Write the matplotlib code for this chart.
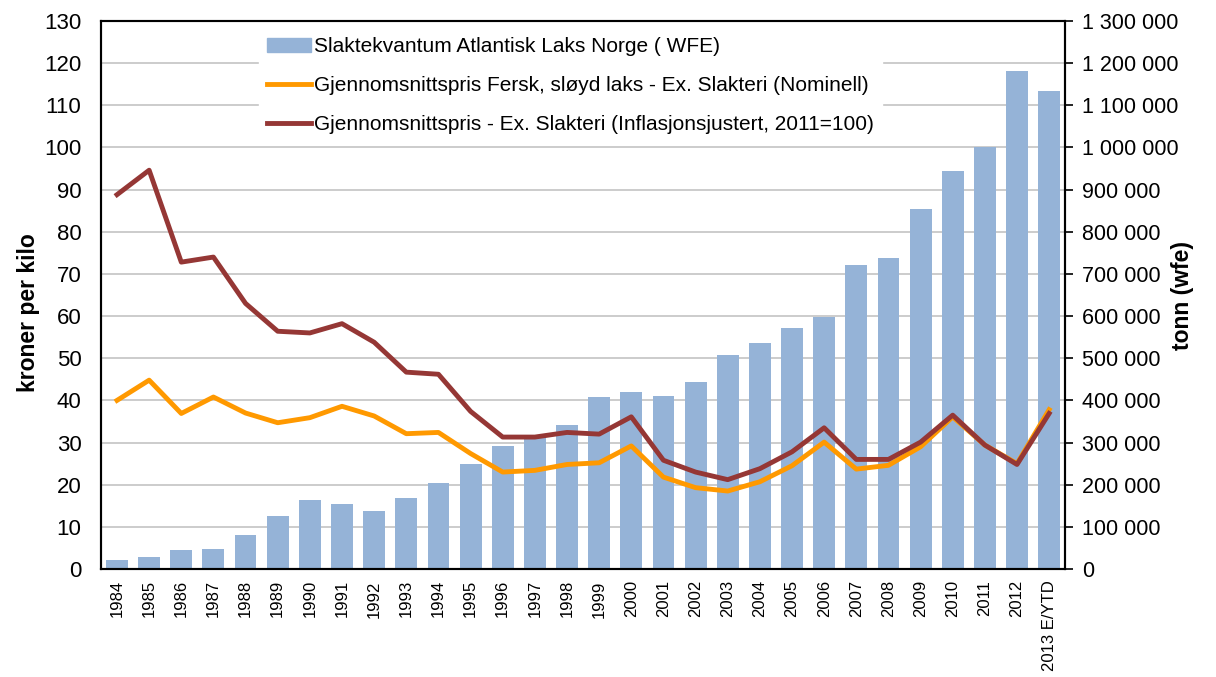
import numpy as np
import matplotlib.pyplot as plt
from matplotlib.ticker import FuncFormatter

plt.rcParams['font.family'] = ['Liberation Sans', 'DejaVu Sans']

years = ['1984', '1985', '1986', '1987', '1988', '1989', '1990', '1991', '1992', '1993',
         '1994', '1995', '1996', '1997', '1998', '1999', '2000', '2001', '2002', '2003',
         '2004', '2005', '2006', '2007', '2008', '2009', '2010', '2011', '2012', '2013 E/YTD']

# slaktekvantum, tonn wfe
volum = [22000, 28000, 45000, 48000, 81000, 125000, 163000, 155000, 138000, 168000,
         205000, 248000, 291000, 315000, 341000, 409000, 420000, 411000, 444000, 508000,
         535000, 571000, 597000, 720000, 738000, 853000, 943000, 1002000, 1181000, 1134000]

# nominell pris kr/kg
nominell = [40.0, 44.8, 36.9, 40.8, 37.0, 34.7, 35.9, 38.6, 36.3, 32.1,
            32.4, 27.4, 23.0, 23.4, 24.8, 25.2, 29.2, 21.8, 19.3, 18.5,
            20.7, 24.5, 30.1, 23.7, 24.6, 29.0, 36.1, 29.4, 25.0, 37.8]

# inflasjonsjustert pris kr/kg (2011=100)
justert = [88.8, 94.6, 72.8, 74.0, 63.0, 56.4, 56.0, 58.2, 53.8, 46.7,
           46.2, 37.4, 31.3, 31.3, 32.4, 32.0, 36.1, 25.8, 23.0, 21.2,
           23.8, 27.8, 33.5, 26.0, 26.0, 30.1, 36.5, 29.4, 24.8, 36.9]

x = np.arange(len(years))

fig = plt.figure(figsize=(12.16, 6.77), dpi=100)
ax = fig.add_axes([0.083, 0.1595, 0.793, 0.8095])
ax2 = ax.twinx()

# stolper paa hoyre akse, linjer paa venstre
ax2.bar(x, volum, width=0.68, color='#95B3D7', zorder=2)
ax2.set_ylim(0, 1300000)
ax2.set_yticks(np.arange(0, 1300001, 100000))
ax2.yaxis.set_major_formatter(FuncFormatter(lambda v, p: f'{int(v):,}'.replace(',', ' ')))
ax2.tick_params(axis='y', labelsize=15.5, length=6, width=1.2, pad=6, colors='black')
ax2.set_ylabel('tonn (wfe)', fontsize=16.5, fontweight='bold', rotation=90)
ax2.yaxis.set_label_coords(1.11, 0.5)

ax.set_zorder(ax2.get_zorder() + 1)
ax.patch.set_visible(False)

ax.set_ylim(0, 130)
ax.set_yticks(np.arange(0, 131, 10))
ax.set_xlim(-0.5, len(years) - 0.5)
ax.set_xticks(x)
ax.set_xticklabels(years, rotation=90, fontsize=12)
ax.tick_params(axis='x', length=0, pad=8)
ax.tick_params(axis='y', labelsize=16, length=0, pad=14)
ax.set_ylabel('kroner per kilo', fontsize=16.5, fontweight='bold')
ax.yaxis.set_label_coords(-0.063, 0.467)

# gridlinjer tegnes paa stolpeaksen saa de havner bak stolpene
for g in range(10, 130, 10):
    ax2.axhline(g * 10000, color='#C8C8C8', lw=1.3, zorder=1)

l1, = ax.plot(x, nominell, color='#FF9900', lw=3.5, zorder=3)
l2, = ax.plot(x, justert, color='#953735', lw=3.5, zorder=4)

for a in (ax, ax2):
    for s in a.spines.values():
        s.set_linewidth(1.5)
ax2.spines['top'].set_color('#404040')

bars = plt.Rectangle((0, 0), 1, 1, color='#95B3D7')
leg = ax.legend([bars, l1, l2],
                ['Slaktekvantum Atlantisk Laks Norge ( WFE)',
                 'Gjennomsnittspris Fersk, sløyd laks - Ex. Slakteri (Nominell)',
                 'Gjennomsnittspris - Ex. Slakteri (Inflasjonsjustert, 2011=100)'],
                loc='upper left', bbox_to_anchor=(0.157, 0.997), frameon=True,
                fontsize=15, handlelength=2.1, handletextpad=0.15, labelspacing=0.95,
                borderpad=0.4, borderaxespad=0.3, fancybox=False)
leg.get_frame().set_edgecolor('white')
leg.get_frame().set_facecolor('white')
leg.get_frame().set_alpha(1)

fig.savefig('out.png', dpi=100)
